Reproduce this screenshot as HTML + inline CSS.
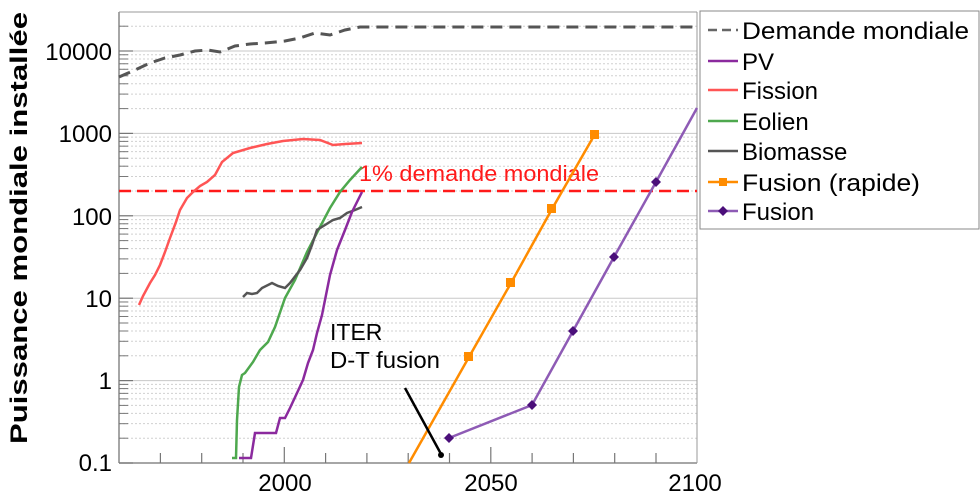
<!DOCTYPE html>
<html><head><meta charset="utf-8"><style>
html,body{margin:0;padding:0;background:#fff;}
svg{display:block;font-family:"Liberation Sans",sans-serif;}
</style></head><body>
<svg id="s" width="980" height="500" viewBox="0 0 980 500" xmlns="http://www.w3.org/2000/svg">
<g id="grid"></g>
<line x1="119" y1="12" x2="119" y2="463" stroke="#888" stroke-width="1.5"/>
<line x1="119" y1="463" x2="697" y2="463" stroke="#888" stroke-width="1.5"/>
<line x1="697" y1="12" x2="697" y2="463" stroke="#999" stroke-width="1"/>
<line x1="119" y1="12" x2="697" y2="12" stroke="#999" stroke-width="1"/>
<g id="ticks"></g>
<g font-size="24" text-anchor="end" fill="#000">
<text x="112" y="60">10000</text>
<text x="112" y="142">1000</text>
<text x="112" y="225">100</text>
<text x="112" y="307">10</text>
<text x="112" y="389">1</text>
<text x="112" y="471">0.1</text>
</g>
<g font-size="24" text-anchor="middle">
<text x="285" y="491">2000</text>
<text x="491" y="491">2050</text>
<text x="695" y="491">2100</text>
</g>
<text transform="translate(27,444) rotate(-90)" font-size="24" font-weight="bold" textLength="432" lengthAdjust="spacingAndGlyphs">Puissance mondiale installée</text>

<polyline fill="none" stroke="#555" stroke-width="3" stroke-dasharray="12,7" points="119,77 135,70 150,63 165,58 180,55 195,51 208,50 220,52 235,46 250,44 265,43 285,41 300,38 315,33 330,35 345,30 360,27 697,27"/>
<line x1="119" y1="191" x2="697" y2="191" stroke="#ff1a1a" stroke-width="2.5" stroke-dasharray="12,6"/>
<text x="359" y="181" font-size="22" fill="#ff1a1a" textLength="240" lengthAdjust="spacingAndGlyphs">1% demande mondiale</text>
<polyline fill="none" stroke="#ff5555" stroke-width="2.5" points="139,305 143,296 150,283 155,275 160,265 165,252 170,238 176,222 180,210 187,198 193,192 200,186 207,182 215,175 222,162 233,153 250,148 267,144 283,141 303,139 320,140 333,145 345,144 362,143"/>
<polyline fill="none" stroke="#4ea84e" stroke-width="2.5" points="232,458 236,458 237,420 239,387 242,375 245,373 253,362 260,350 268,342 275,327 285,298 295,280 307,252 320,227 330,208 340,192 350,180 362,167"/>
<polyline fill="none" stroke="#555" stroke-width="2.5" points="243,297 247,293 252,294 257,293 262,288 272,283 278,286 285,288 290,283 300,270 307,258 312,245 317,230 325,225 333,220 340,218 347,213 355,210 362,207"/>
<polyline fill="none" stroke="#8b2a9e" stroke-width="2.5" points="239,458 251,458 255,433 276,433 280,418 285,418 290,408 297,393 303,380 308,363 313,350 317,333 322,315 325,300 330,275 337,250 345,230 352,212 362,192"/>
<polyline fill="none" stroke="#ff8c00" stroke-width="2.5" points="409,463 469,357 511,283 552,209 595,134"/>
<g fill="#ff8c00">
<rect x="464" y="352" width="9" height="9"/><rect x="506" y="278" width="9" height="9"/><rect x="547" y="204" width="9" height="9"/><rect x="590" y="130" width="9" height="9"/>
</g>
<polyline fill="none" stroke="#8e5bb5" stroke-width="2.5" points="449,438 532,405 573,331 614,257 656,182 697,108"/>
<g fill="#4b0f7a">
<path d="M449,433 l5,5 -5,5 -5,-5z"/><path d="M532,400 l5,5 -5,5 -5,-5z"/><path d="M573,326 l5,5 -5,5 -5,-5z"/><path d="M614,252 l5,5 -5,5 -5,-5z"/><path d="M656,177 l5,5 -5,5 -5,-5z"/>
</g>
<line x1="405" y1="388" x2="441" y2="454" stroke="#000" stroke-width="2.5"/>
<circle cx="441" cy="455" r="3" fill="#000"/>
<text x="330" y="340" font-size="23">ITER</text>
<text x="330" y="368" font-size="23" textLength="110" lengthAdjust="spacingAndGlyphs">D-T fusion</text>

<rect x="700" y="11" width="279" height="218" fill="#fff" stroke="#888" stroke-width="1"/>
<g stroke-width="2.5">
<line x1="708" y1="30" x2="738" y2="30" stroke="#666" stroke-dasharray="9,5"/>
<line x1="708" y1="61" x2="738" y2="61" stroke="#8b2a9e"/>
<line x1="708" y1="90" x2="738" y2="90" stroke="#ff5555"/>
<line x1="708" y1="121" x2="738" y2="121" stroke="#4ea84e"/>
<line x1="708" y1="151" x2="738" y2="151" stroke="#555"/>
<line x1="708" y1="182" x2="738" y2="182" stroke="#ff8c00"/>
<line x1="708" y1="211" x2="738" y2="211" stroke="#8e5bb5"/>
</g>
<rect x="719" y="178" width="8" height="8" fill="#ff8c00"/>
<path d="M723,206 l5,5 -5,5 -5,-5z" fill="#4b0f7a"/>
<g font-size="24">
<text x="742" y="39" textLength="227" lengthAdjust="spacingAndGlyphs">Demande mondiale</text>
<text x="742" y="70">PV</text>
<text x="742" y="99">Fission</text>
<text x="742" y="130">Eolien</text>
<text x="742" y="160">Biomasse</text>
<text x="742" y="191" textLength="178" lengthAdjust="spacingAndGlyphs">Fusion (rapide)</text>
<text x="742" y="220">Fusion</text>
</g>
</svg>
<script>
(function(){
var NS="http://www.w3.org/2000/svg";
var g=document.getElementById('grid'),t=document.getElementById('ticks');
function L(p,a){var e=document.createElementNS(NS,'line');for(var k in a)e.setAttribute(k,a[k]);p.appendChild(e);}
var bases=[463,380.6,298.2,215.8,133.4,51,-31.4];
for(var i=0;i<bases.length;i++){
 var b=bases[i];
 if(b>=12&&b<=463){L(g,{x1:119,x2:697,y1:b,y2:b,stroke:'#c8c8c8','stroke-width':1});L(t,{x1:119,x2:133,y1:b,y2:b,stroke:'#777','stroke-width':1.2});}
 for(var m=2;m<=9;m++){var y=b-Math.log10(m)*82.4;if(y<13||y>462)continue;
  L(g,{x1:119,x2:697,y1:y,y2:y,stroke:'#d0d0d0','stroke-width':1,'stroke-dasharray':'2,2'});
  L(t,{x1:119,x2:128,y1:y,y2:y,stroke:'#777','stroke-width':1});}
}
for(var yr=1970;yr<2100;yr+=10){var x=284.3+(yr-2000)*4.13;var h=(yr%50==0)?16:10;L(t,{x1:x,x2:x,y1:463,y2:463-h,stroke:'#777','stroke-width':1.2});}
})();
</script>
</body></html>
